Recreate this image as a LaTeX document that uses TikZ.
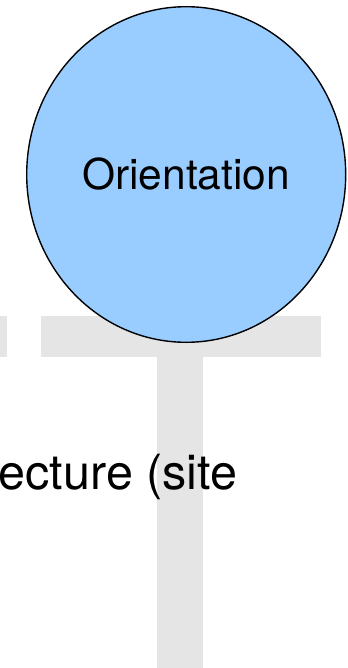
\documentclass[tikz,border=0pt]{standalone}
\usepackage{fontspec}
\setmainfont{TeX Gyre Heros}
\usetikzlibrary{shapes.geometric}

\definecolor{barGray}{HTML}{E5E5E5}
\definecolor{nodeBlue}{HTML}{99CCFF}

\tikzset{
  bar/.style={fill=barGray,draw=none},
  topic/.style={ellipse,draw=black,line width=1.4pt,fill=nodeBlue,
    minimum width=319bp,minimum height=335.6bp,inner sep=0pt,
    font=\fontsize{42.5bp}{51bp}\selectfont},
  caption/.style={anchor=base west,inner sep=0pt,
    font=\fontsize{48.5bp}{58bp}\selectfont}
}

\begin{document}
\begin{tikzpicture}[x=1bp,y=-1bp]
\useasboundingbox (0,0) rectangle (347,668);
\clip (0,0) rectangle (347,668);
            % Bars
\fill[bar] (0,316) rectangle (7,357);
\fill[bar] (41,316) rectangle (321,357);
\fill[bar] (156.7,357) rectangle (203.3,668);
            % Text
\node[caption] (site) at (-1.5,489.5) {ecture (site};
            % Vertex
\node[topic] (orient) at (186.2,174.5) {Orientation};
\end{tikzpicture}
\end{document}
